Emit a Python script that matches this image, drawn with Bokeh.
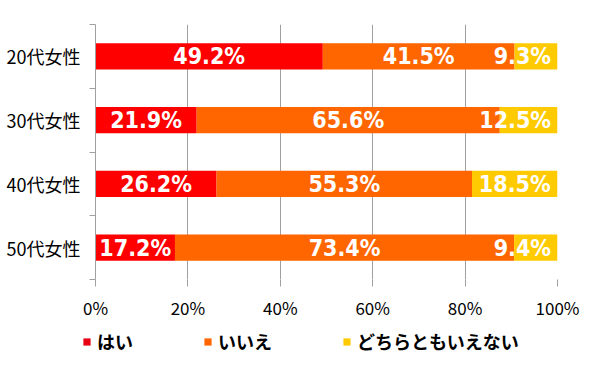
from bokeh.plotting import figure
from bokeh.layouts import column, row
from bokeh.models import ColumnDataSource, Range1d, FixedTicker, Legend, LegendItem
from bokeh.core.properties import value
from bokeh.embed import file_html
from bokeh.resources import INLINE

categories = ["20代女性", "30代女性", "40代女性", "50代女性"]
series_names = ["はい", "いいえ", "どちらともいえない"]
yes = [49.2, 21.9, 26.2, 17.2]
no = [41.5, 65.6, 55.3, 73.4]
neither = [9.3, 12.5, 18.5, 9.4]
x_ticks = [0, 20, 40, 60, 80, 100]
colors = ["#FF0000", "#FF6600", "#FFCA00"]

n = len(categories)
ys = [n - i - 0.5 for i in range(n)]

src = ColumnDataSource(dict(y=ys, s0=yes, s1=no, s2=neither))

p = figure(width=600, height=322, output_backend="svg", toolbar_location=None,
           x_range=Range1d(0, 100), y_range=Range1d(0, n),
           min_border_left=95, min_border_right=43, min_border_top=24, min_border_bottom=42)
p.outline_line_color = None
p.background_fill_color = "white"

renderers = p.hbar_stack(["s0", "s1", "s2"], y="y", height=0.41, color=colors,
                         line_color=None, source=src)

# data labels
lx, ly, lt, la = [], [], [], []
for i in range(n):
    vals = [yes[i], no[i], neither[i]]
    left = 0.0
    for v in vals:
        txt = f"{v:.1f}%"
        c = left + v / 2
        w = 2.6 * len(txt)
        if c + w / 2 > 98.5:
            lx.append(98.6); la.append("right")
        else:
            lx.append(c); la.append("center")
        ly.append(ys[i]); lt.append(txt)
        left += v
lsrc = ColumnDataSource(dict(x=lx, y=ly, t=lt, a=la))
p.text(x="x", y="y", text="t", text_align="a", source=lsrc, text_color="white",
       text_font=value("DejaVu Sans Condensed"), text_font_style="bold",
       text_font_size="23px", text_baseline="middle")

# x axis
p.xaxis.ticker = FixedTicker(ticks=x_ticks)
p.xaxis.major_label_overrides = {t: f"{t}%" for t in x_ticks}
p.xaxis.axis_line_color = None
p.xaxis.major_tick_line_color = "#A0A0A0"
p.xaxis.major_tick_out = 7
p.xaxis.major_tick_in = 0
p.xaxis.minor_tick_line_color = None
p.xaxis.major_label_standoff = 8
p.xaxis.major_label_text_font = "Noto Sans CJK JP"
p.xaxis.major_label_text_font_size = "17px"
p.xaxis.major_label_text_color = "black"

# y axis
p.yaxis.ticker = FixedTicker(ticks=ys, minor_ticks=list(range(n + 1)))
p.yaxis.major_label_overrides = {y: c for y, c in zip(ys, categories)}
p.yaxis.axis_line_color = "#A0A0A0"
p.yaxis.major_tick_line_color = None
p.yaxis.major_tick_out = 0
p.yaxis.major_tick_in = 0
p.yaxis.minor_tick_line_color = "#A0A0A0"
p.yaxis.minor_tick_out = 6
p.yaxis.minor_tick_in = 0
p.yaxis.major_label_standoff = 9
p.yaxis.major_label_text_font = "Noto Sans CJK JP"
p.yaxis.major_label_text_font_size = "18px"
p.yaxis.major_label_text_color = "black"

p.xgrid.ticker = FixedTicker(ticks=x_ticks[1:])
p.xgrid.grid_line_color = "#A0A0A0"
p.ygrid.grid_line_color = None

# legend in a separate strip below
p2 = figure(width=600, height=45, output_backend="svg", toolbar_location=None,
            x_range=Range1d(0, 1), y_range=Range1d(0, 1), min_border=0)
p2.axis.visible = False
p2.grid.visible = False
p2.outline_line_color = None
legend_colors = ["#E60012", "#FF6600", "#FFCA00"]
dummy = [p2.rect(x=[-5], y=[-5], width=[0.1], height=[0.1], fill_color=c, line_color=None)
         for c in legend_colors]
legend = Legend(items=[LegendItem(label=s, renderers=[r]) for s, r in zip(series_names, dummy)],
                orientation="horizontal", location=(82, 13),
                glyph_width=9, glyph_height=9, label_standoff=6, spacing=70,
                padding=0, margin=0, border_line_color=None, background_fill_alpha=0,
                label_text_font="Noto Sans CJK JP", label_text_font_size="18px",
                label_text_font_style="bold", label_text_color="black")
p2.add_layout(legend, "center")

open("out.html", "w").write(file_html(column(p, row(p2), spacing=0), INLINE))
